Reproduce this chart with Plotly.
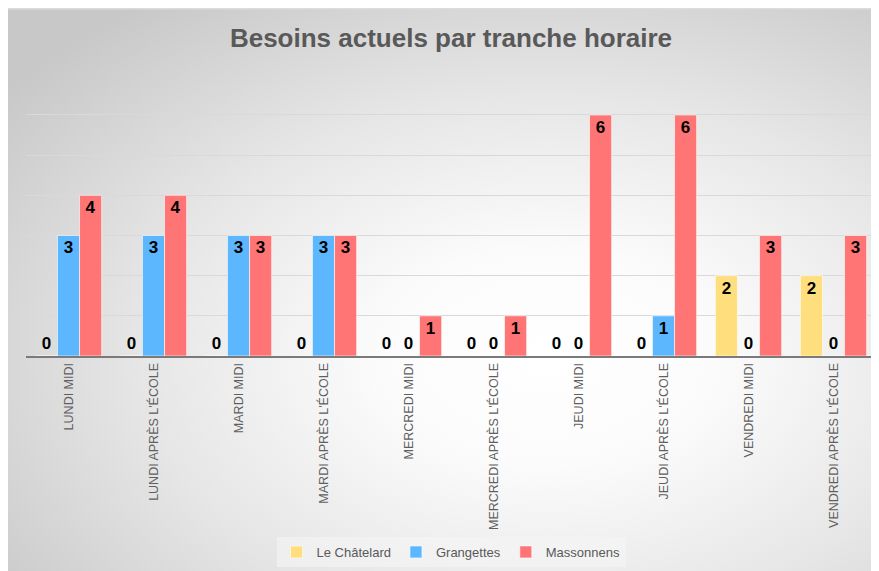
import base64
import plotly.graph_objects as go

categories = ["LUNDI MIDI", "LUNDI APRÈS L'ÉCOLE", "MARDI MIDI", "MARDI APRÈS L'ÉCOLE",
              "MERCREDI MIDI", "MERCREDI APRÈS L'ÉCOLE", "JEUDI MIDI", "JEUDI APRÈS L'ÉCOLE",
              "VENDREDI MIDI", "VENDREDI APRÈS L'ÉCOLE"]
le_chatelard = [0, 0, 0, 0, 0, 0, 0, 0, 2, 2]
grangettes = [3, 3, 3, 3, 0, 0, 0, 1, 0, 0]
massonnens = [4, 4, 3, 3, 1, 1, 6, 6, 3, 3]

series = [("Le Châtelard", le_chatelard, "#ffde7d"),
          ("Grangettes", grangettes, "#5db7ff"),
          ("Massonnens", massonnens, "#ff7575")]

fig = go.Figure()
for name, vals, color in series:
    fig.add_trace(go.Bar(
        x=categories, y=vals, name=name,
        marker=dict(color=color, line=dict(color="rgba(255,255,255,0.6)", width=1)),
        text=[str(v) for v in vals],
        textposition=["outside" if v == 0 else "inside" for v in vals],
        insidetextanchor="end",
        textangle=0,
        textfont=dict(family="Liberation Sans", size=17, color="black", weight="bold"),
        cliponaxis=False,
    ))

W, H = 871, 563
L, R, T, B = 18, 3, 66, 215
pw, ph = W - L - R, H - T - B

svg = f"""<svg xmlns='http://www.w3.org/2000/svg' width='{W}' height='{H}' preserveAspectRatio='none'>
<defs><radialGradient id='g' cx='0.62' cy='0.62' r='0.78' fx='0.62' fy='0.62'>
<stop offset='0' stop-color='#ffffff'/>
<stop offset='0.25' stop-color='#fbfbfb'/>
<stop offset='0.6' stop-color='#e6e6e6'/>
<stop offset='1' stop-color='#c8c8c8'/>
</radialGradient></defs>
<rect width='{W}' height='{H}' fill='url(#g)'/>
<rect x='0' y='0' width='{W}' height='1.5' fill='#dcdcdc'/>
</svg>"""
src = "data:image/svg+xml;base64," + base64.b64encode(svg.encode()).decode()

fig.add_layout_image(dict(
    source=src, xref="paper", yref="paper",
    x=-L / pw, y=1 + T / ph,
    sizex=W / pw, sizey=H / ph,
    sizing="stretch", xanchor="left", yanchor="top", layer="below"))

fig.update_layout(
    width=W, height=H,
    margin=dict(l=L, r=R, t=T, b=B),
    paper_bgcolor="#d0d0d0", plot_bgcolor="rgba(0,0,0,0)",
    barmode="group", bargap=0.22, bargroupgap=0,
    title=dict(text="<b>Besoins actuels par tranche horaire</b>", x=0.5, xref="paper",
               y=1 - 30 / H, yanchor="middle",
               font=dict(family="Liberation Sans", size=26, color="#595959")),
    xaxis=dict(tickangle=-90, tickfont=dict(family="Liberation Sans", size=12.5, color="#5f5f5f"),
               showline=True, linecolor="#7a7a7a", linewidth=2, ticks="", showgrid=False),
    yaxis=dict(range=[0, 7.02], dtick=1, showticklabels=False, showgrid=True,
               gridcolor="#d9d9d9", gridwidth=1, zeroline=False, ticks=""),
    legend=dict(orientation="h", x=0.5, xanchor="center", y=-(544 - 348) / ph, yanchor="middle",
                bgcolor="rgba(245,245,245,0.6)", itemwidth=30,
                font=dict(family="Liberation Sans", size=13, color="#595959")),
    showlegend=True,
)

fig.write_html("out.html")
